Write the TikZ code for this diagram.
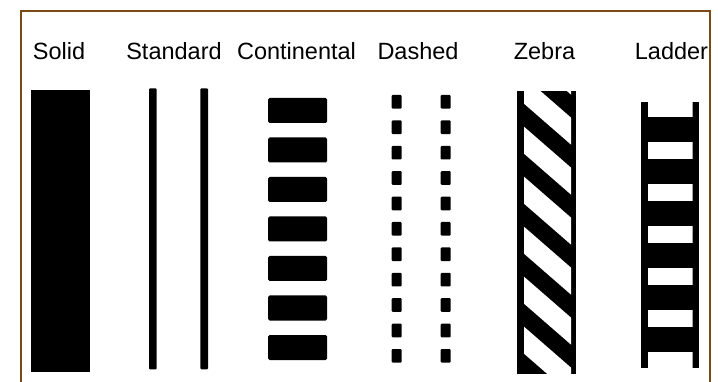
\documentclass[tikz,border=0pt]{standalone}
\usepackage{fontspec}
\setmainfont{Liberation Sans}
\definecolor{framebrown}{RGB}{122,74,20}
\begin{document}
\begin{tikzpicture}[x=1pt,y=-1pt,
  lbl/.style={anchor=base,inner sep=0pt,font=\fontsize{23.5}{26}\selectfont},
  blk/.style={fill=black,draw=none},
  cblk/.style={fill=black,draw=none,rounded corners=1.5pt},
  wht/.style={fill=white,draw=none}]
\useasboundingbox (0,0) rectangle (718,382);
\fill[white] (0,0) rectangle (718,382);
% frame (open at bottom)
\draw[framebrown,line width=2pt] (20.7,383) -- (20.7,10.7) -- (709.7,10.7) -- (709.7,383);
% labels
\node[lbl] (lsolid) at (59,59.5) {Solid};
\node[lbl] (lstd) at (174,59.5) {Standard};
\node[lbl] (lcont) at (296.5,59.5) {Continental};
\node[lbl] (ldash) at (418,59.5) {Dashed};
\node[lbl] (lzeb) at (544.5,59.5) {Zebra};
\node[lbl] (llad) at (671.5,59.5) {Ladder};
% solid
\fill[blk] (30.7,90) rectangle (90,372.3);
% standard
\fill[blk,rounded corners=1pt] (149,88.3) rectangle (156.7,369.3);
\fill[blk,rounded corners=1pt] (200.3,88.3) rectangle (208,369.3);
% continental
\foreach \i in {0,...,6}{
  \fill[cblk] (268,98+39.5*\i) rectangle (327,123+39.5*\i);
}
% dashed
\foreach \i in {0,...,10}{
  \fill[blk,rounded corners=1pt] (391.7,95+25.4*\i) rectangle (401.7,108.7+25.4*\i);
  \fill[blk,rounded corners=1pt] (440.7,95+25.4*\i) rectangle (450.7,108.7+25.4*\i);
}
% zebra
\fill[blk] (517,91) rectangle (576,374);
\begin{scope}
  \clip (524,91) rectangle (571,374);
  \foreach \k in {-2,...,5}{
    \pgfmathsetmacro{\c}{126.7+50*\k}
    \fill[wht] (524,\c) -- (571,\c+40.9) -- (571,\c+67.9) -- (524,\c+27) -- cycle;
  }
\end{scope}
% ladder
\fill[blk] (641,102.3) rectangle (699.3,367.7);
\begin{scope}
  \clip (647.7,102.3) rectangle (692.7,367.7);
  \foreach \k in {0,...,6}{
    \fill[wht] (647.7,99.7+42*\k) rectangle (692.7,116.7+42*\k);
  }
\end{scope}
\end{tikzpicture}
\end{document}
